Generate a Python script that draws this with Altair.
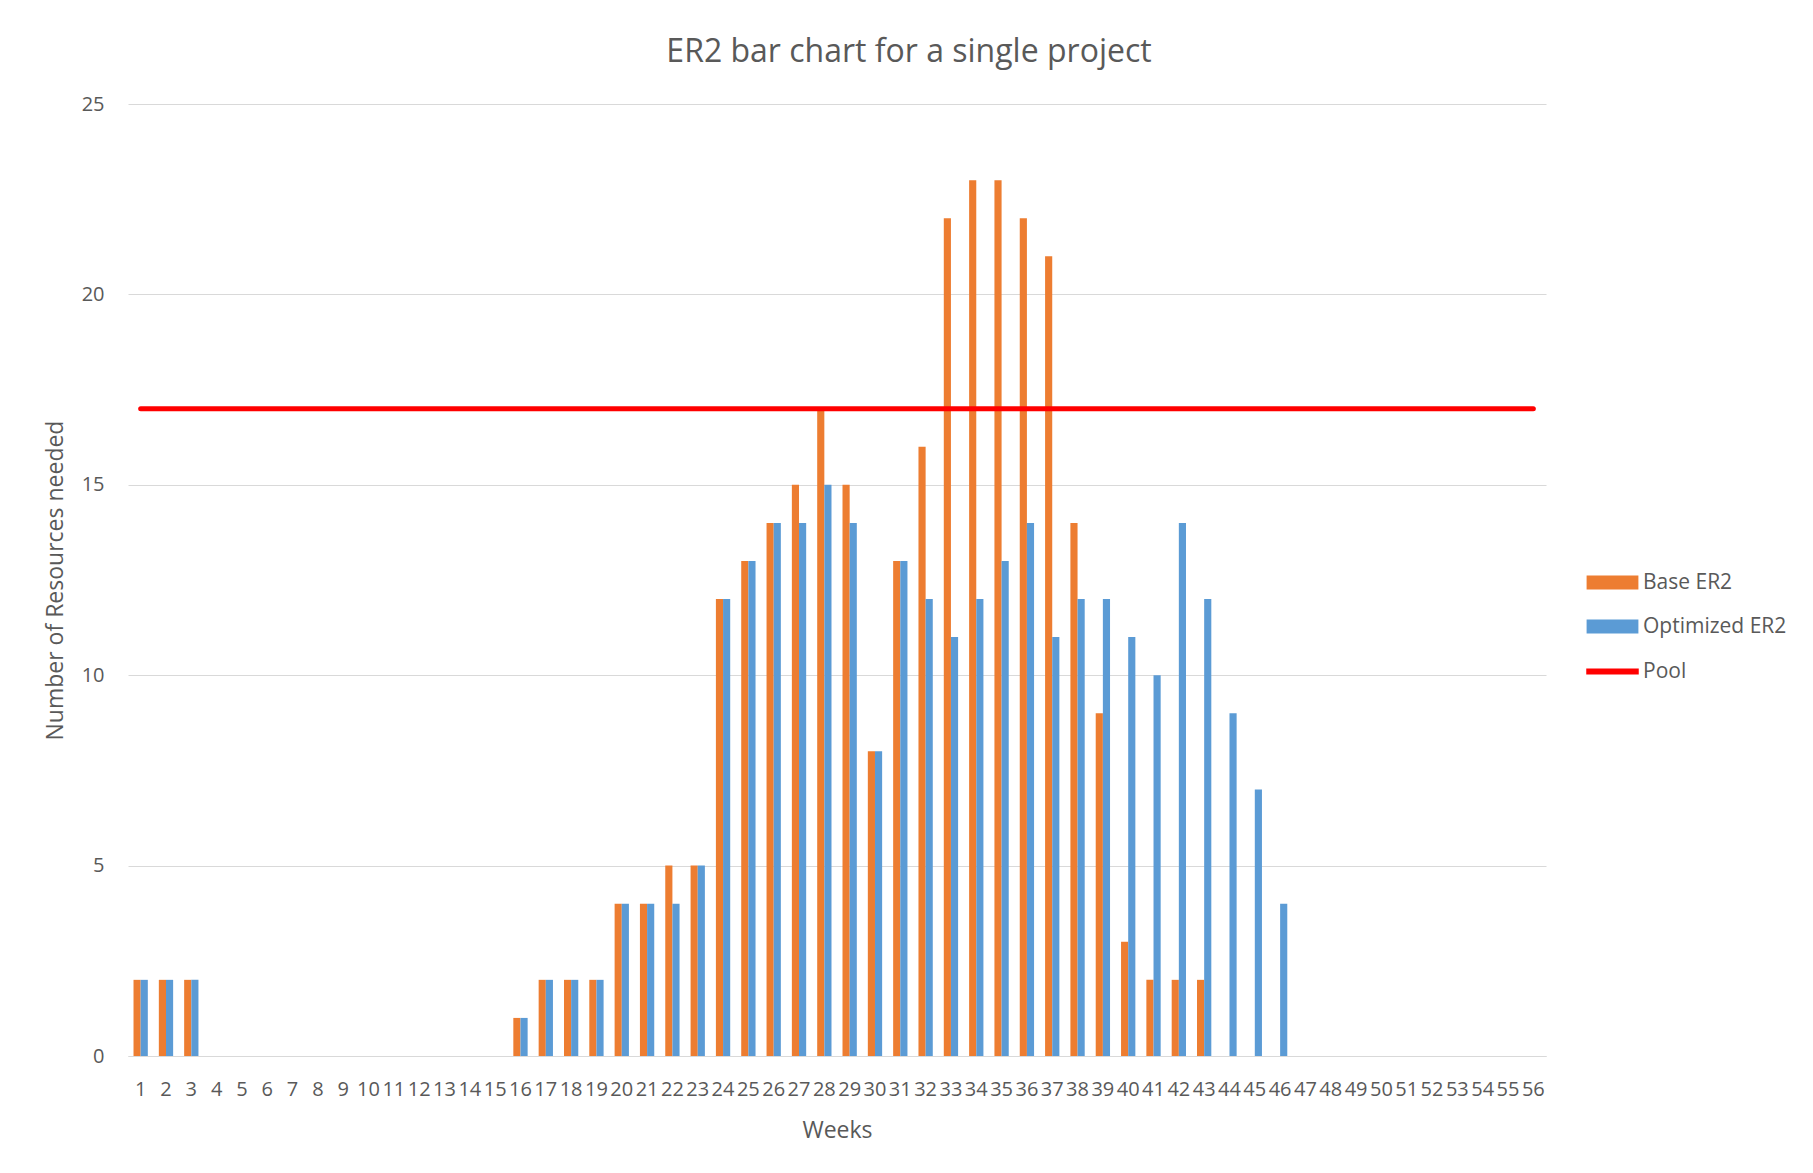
import altair as alt
import pandas as pd

weeks = list(range(1, 57))
base_er2 = [2, 2, 2] + [0] * 12 + [1, 2, 2, 2] + [
    4, 4, 5, 5, 12, 13, 14, 15, 17, 15, 8, 13, 16, 22, 23, 23, 22, 21, 14, 9, 3, 2, 2, 2, 0, 0, 0
] + [0] * 10
optimized_er2 = [2, 2, 2] + [0] * 12 + [1, 2, 2, 2] + [
    4, 4, 4, 5, 12, 13, 14, 14, 15, 14, 8, 13, 12, 11, 12, 13, 14, 11, 12, 12, 11, 10, 14, 12, 9, 7, 4
] + [0] * 10
pool_value = 17
series_names = ["Base ER2", "Optimized ER2"]
series_colors = ["#ED7D31", "#5B9BD5"]
y_ticks = [0, 5, 10, 15, 20, 25]

rows = []
for w, b, o in zip(weeks, base_er2, optimized_er2):
    rows.append({"week": w, "series": "Base ER2", "value": b})
    rows.append({"week": w, "series": "Optimized ER2", "value": o})
bars_df = pd.DataFrame(rows)
pool_df = pd.DataFrame({"week": weeks, "series": ["Pool"] * len(weeks), "value": [pool_value] * len(weeks)})

FONT = "Open Sans"
TXT = "#595959"

x_enc = alt.X(
    "week:O",
    scale=alt.Scale(domain=weeks, paddingInner=0.435, paddingOuter=0.2175),
    axis=alt.Axis(
        title="Weeks", labelAngle=0, labelOverlap=False, ticks=False,
        domainColor="#D9D9D9", domainWidth=1, labelPadding=23, titlePadding=20,
        labelFontSize=20, titleFontSize=23, labelColor=TXT, titleColor=TXT,
        labelFont=FONT, titleFont=FONT, titleFontWeight="normal", grid=False,
    ),
)
y_enc = alt.Y(
    "value:Q",
    scale=alt.Scale(domain=[0, 25], nice=False),
    axis=alt.Axis(
        title="Number of Resources needed", values=y_ticks,
        domain=False, ticks=False, gridColor="#D9D9D9", gridWidth=1,
        labelPadding=24, titlePadding=14, labelFontSize=20, titleFontSize=23,
        labelColor=TXT, titleColor=TXT, labelFont=FONT, titleFont=FONT,
        titleFontWeight="normal",
    ),
)

bars = alt.Chart(bars_df).mark_bar().encode(
    x=x_enc,
    xOffset=alt.XOffset("series:N", scale=alt.Scale(domain=series_names, paddingInner=0, paddingOuter=0)),
    y=y_enc,
    color=alt.Color(
        "series:N",
        scale=alt.Scale(domain=series_names, range=series_colors),
        legend=alt.Legend(
            title=None, orient="none", legendX=1474, legendY=468, padding=0,
            symbolType="M-3.7,-1H3.7V1H-3.7Z", symbolSize=196, symbolStrokeWidth=0,
            labelOffset=20, rowPadding=22, labelFontSize=21, labelColor=TXT, labelFont=FONT,
        ),
    ),
)

pool = alt.Chart(pool_df).mark_line(strokeWidth=5, strokeCap="round").encode(
    x=alt.X("week:O"),
    y=alt.Y("value:Q"),
    color=alt.Color(
        "series:N",
        scale=alt.Scale(domain=["Pool"], range=["#FF0000"]),
        legend=alt.Legend(
            title=None, orient="none", legendX=1474, legendY=557, padding=0,
            symbolType="M-3.75,0H3.75", symbolSize=196, symbolStrokeWidth=6,
            labelOffset=20, labelFontSize=21, labelColor=TXT, labelFont=FONT,
        ),
    ),
)

chart = alt.layer(bars, pool).resolve_scale(color="independent").properties(
    width=1418,
    height=952,
    background="white",
    autosize=alt.AutoSizeParams(type="none"),
    padding={"left": 120, "top": 96, "right": 255, "bottom": 100},
    title=alt.TitleParams(
        "ER2 bar chart for a single project", fontSize=32, font=FONT, color=TXT,
        fontWeight="normal", anchor="middle", offset=25, dx=72,
    ),
).configure_view(stroke=None)

chart.save("out.html", embed_options={"renderer": "svg", "actions": False})
